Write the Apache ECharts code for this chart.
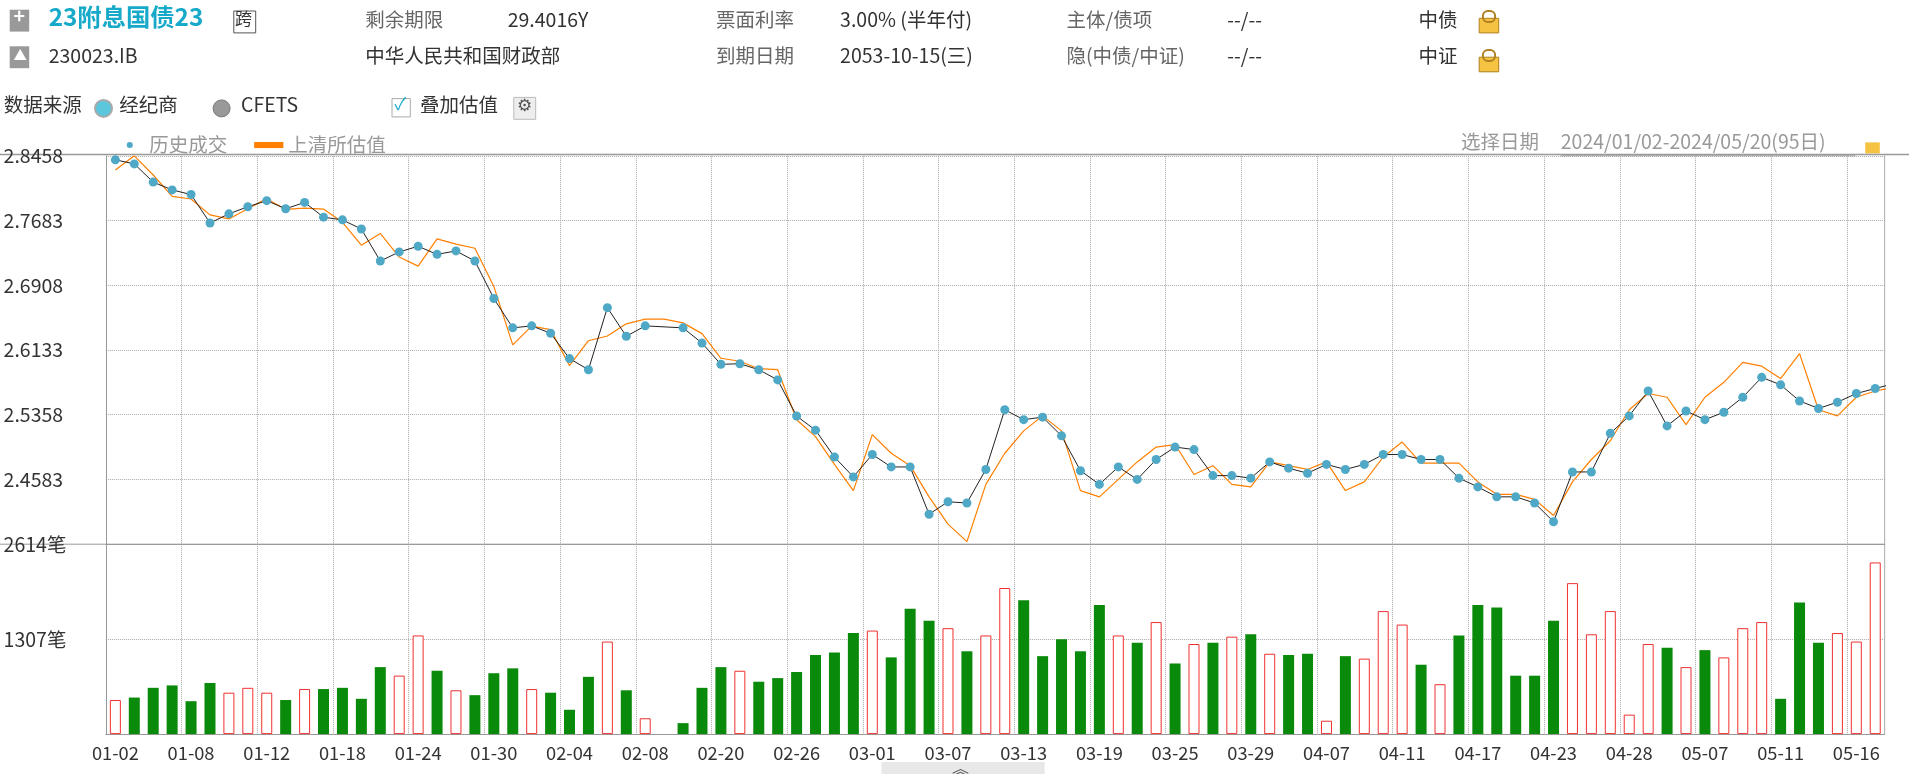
<!DOCTYPE html>
<html><head><meta charset="utf-8">
<script src="https://cdn.jsdelivr.net/npm/echarts@6/dist/echarts.min.js"></script>
<style>html,body{margin:0;padding:0;background:#fff}#c{width:1909px;height:774px}</style>
</head><body><div id="c"></div>
<script>
const dates = ['01-02','01-03','01-04','01-05','01-08','01-09','01-10','01-11','01-12','01-15','01-16','01-17','01-18','01-19','01-22','01-23','01-24','01-25','01-26','01-29','01-30','01-31',
'02-01','02-02','02-04','02-05','02-06','02-07','02-08','02-09','02-18','02-19','02-20','02-21','02-22','02-23','02-26','02-27','02-28','02-29',
'03-01','03-04','03-05','03-06','03-07','03-08','03-11','03-12','03-13','03-14','03-15','03-18','03-19','03-20','03-21','03-22','03-25','03-26','03-27','03-28','03-29',
'04-01','04-02','04-03','04-07','04-08','04-09','04-10','04-11','04-12','04-15','04-16','04-17','04-18','04-19','04-22','04-23','04-24','04-25','04-26','04-28','04-29','04-30',
'05-06','05-07','05-08','05-09','05-10','05-11','05-13','05-14','05-15','05-16','05-17'];
const trades = [2.8410,2.8361,2.8143,2.8050,2.7994,2.7654,2.7763,2.7848,2.7921,2.7824,2.7900,2.7723,2.7691,2.7581,2.7198,2.7307,2.7375,2.7278,2.7319,2.7198,
2.6749,2.6398,2.6422,2.6333,2.6030,2.5897,2.6640,2.6297,2.6422,null,2.6398,2.6216,2.5961,2.5969,2.5897,2.5775,2.5343,2.5173,2.4852,2.4614,
2.4882,2.4733,2.4733,2.4167,2.4316,2.4301,2.4703,2.5418,2.5299,2.5329,2.5105,2.4688,2.4524,2.4733,2.4584,2.4822,2.4971,2.4941,2.4629,2.4629,
2.4599,2.4793,2.4718,2.4658,2.4763,2.4703,2.4763,2.4882,2.4882,2.4822,2.4822,2.4599,2.4494,2.4375,2.4375,2.4301,2.4077,2.4673,2.4673,2.5135,
2.5344,2.5642,2.5224,2.5403,2.5299,2.5388,2.5567,2.5806,2.5716,2.5523,2.5433,2.5508,2.5612,2.5672,2.5731];
const valuation = [2.8288,2.8458,2.8228,2.7973,2.7941,2.7751,2.7702,2.7824,2.7945,2.7816,2.7832,2.7820,2.7662,2.7388,2.7529,2.7246,2.7137,2.7464,2.7400,2.7351,
2.6894,2.6195,2.6418,2.6377,2.5945,2.6244,2.6301,2.6446,2.6503,2.6503,2.6458,2.6329,2.6034,2.5998,2.5909,2.5897,2.5298,2.5096,2.4763,2.4450,
2.5120,2.4897,2.4748,2.4375,2.4048,2.3839,2.4524,2.4897,2.5165,2.5344,2.5165,2.4450,2.4375,2.4584,2.4793,2.4971,2.5001,2.4643,2.4748,2.4524,
2.4494,2.4793,2.4748,2.4703,2.4793,2.4450,2.4554,2.4852,2.5031,2.4778,2.4778,2.4778,2.4554,2.4405,2.4405,2.4345,2.4152,2.4554,2.4822,2.5046,
2.5418,2.5612,2.5567,2.5239,2.5567,2.5746,2.5984,2.5939,2.5791,2.6089,2.5418,2.5344,2.5567,2.5642,2.5686];
const volumes = [469,503,637,670,453,704,570,637,570,469,620,620,637,486,922,805,1358,872,603,536,838,905,620,570,335,788,1274,603,218,null,151,
637,922,872,721,771,855,1089,1123,1391,1425,1056,1726,1559,1458,1140,1358,2011,1844,1073,1307,1140,1777,1358,1257,1542,972,1240,1257,1341,1374,
1106,1089,1106,184,1073,1039,1693,1508,955,687,1358,1777,1743,804,804,1559,2078,1374,1693,268,1240,1190,922,1156,1056,1458,1542,486,1810,1257,1391,1274,2363,888];
const volKind = 'RGGGGGRRRGRGGGGRRGRGGGRGGGRGR-G' + 'GGRGGGGGG' + 'RGGGRGRRGGGG' + 'GRGRGRGRGRGG' + 'RGRRRGRGGGGG' + 'GRRRRRGRGRRR' + 'GGGRRRR';
const volTicks = [0,1307,2614];
const priceTicks = [2.3808,2.4583,2.5358,2.6133,2.6908,2.7683,2.8458];

const K = 1909/1568;
const S = v => Math.round(v*K*10)/10;
const chart = echarts.init(document.getElementById('c'));
const F = 'Noto Sans CJK SC';
const FS = S(16);
const t = (x,y,s,o={}) => ({type:'text',left:S(x),top:S(y),style:Object.assign({text:s,fill:'#333',font:FS+'px "'+F+'"'},o)});
const grey = {fill:'#666'};
const box = (x,y,w,h,fill,stroke) => ({type:'rect',shape:{x:S(x),y:S(y),width:S(w),height:S(h)},style:{fill:fill,stroke:stroke||null}});
const lock = (x,y) => ([box(x,y+5,16,12,'#f5c242','#b08020'),{type:'rect',shape:{x:S(x+3),y:S(y-1),width:S(10),height:S(9),r:5},style:{fill:'none',stroke:'#b08020',lineWidth:2}}]);
const graphic = [
  box(8,8,16,18,'#999'), t(11,5,'+',{fill:'#fff',font:'bold '+FS+'px "'+F+'"'}),
  t(40,4,'23附息国债23',{fill:'#17a9c9',font:'bold '+S(20)+'px "'+F+'"'}),
  box(192,9,18,18,'#fff','#555'), t(193,8,'跨',{font:S(14)+'px "'+F+'"'}),
  t(300,8,'剩余期限',grey), t(417,8,'29.4016Y'),
  t(588,8,'票面利率',grey), t(690,8,'3.00% (半年付)'),
  t(876,8,'主体/债项',grey), t(1008,8,'--/--'), t(1165,8,'中债'),
  box(8,38,16,18,'#999'), t(11,40,'▲',{fill:'#fff',font:S(11)+'px "'+F+'"'}),
  t(40,38,'230023.IB'), t(300,38,'中华人民共和国财政部'),
  t(588,38,'到期日期',grey), t(690,38,'2053-10-15(三)'),
  t(876,38,'隐(中债/中证)',grey), t(1008,38,'--/--'), t(1165,38,'中证'),
  ...lock(1215,10), ...lock(1215,42),
  t(3,78,'数据来源'),
  {type:'circle',shape:{cx:S(85),cy:S(89),r:S(7)},style:{fill:'#5bc6dc',stroke:'#aaa',lineWidth:2}},
  t(98,78,'经纪商'),
  {type:'circle',shape:{cx:S(182),cy:S(89),r:S(7)},style:{fill:'#999',stroke:'#777',lineWidth:1}},
  t(198,78,'CFETS'),
  box(322,81,15,15,'#fff','#aaa'), t(324,78,'✓',{fill:'#17a9c9',font:S(14)+'px "'+F+'"'}),
  t(345,78,'叠加估值'),
  box(422,80,18,18,'#eee','#bbb'), t(425,79,'⚙',{font:S(14)+'px "'+F+'"',fill:'#555'}),
  t(1200,108,'选择日期',{fill:'#999'}),
  t(1282,108,'2024/01/02-2024/05/20(95日)',{fill:'#999'}),
  {type:'line',shape:{x1:S(1282),y1:S(128),x2:S(1524),y2:S(128)},style:{stroke:'#999'}},
  box(1532,117,12,9,'#f5c242'),
  {type:'line',shape:{x1:0,y1:S(127),x2:1909,y2:S(127)},style:{stroke:'#999',lineWidth:1.5}},
  {type:'line',shape:{x1:0,y1:S(447),x2:S(1548),y2:S(447)},style:{stroke:'#999',lineWidth:1}},
  {type:'line',shape:{x1:S(1548),y1:S(127),x2:S(1548),y2:S(603)},style:{stroke:'#bbb',lineWidth:1}},
  box(724,626,134,20,'#e8e8e8'), t(782,624,'︽',{fill:'#555',font:S(14)+'px "'+F+'"'})
];
const split = {show:true,interval:3,lineStyle:{type:'dotted',color:'#aaa'}};
chart.setOption({
  animation:false,
  textStyle:{fontFamily:F},
  graphic:graphic,
  legend:{left:S(100),top:S(107),itemGap:S(22),textStyle:{color:'#999',fontSize:FS},
    data:[{name:'历史成交',icon:'circle'},{name:'上清所估值',icon:'rect'}],itemWidth:S(24),itemHeight:S(5)},
  grid:[{left:S(87),right:1909-S(1548),top:S(128),height:S(319)},{left:S(87),right:1909-S(1548),top:S(447),height:S(156)}],
  xAxis:[
    {type:'category',data:dates,gridIndex:0,axisLabel:{show:false},axisTick:{show:false},axisLine:{lineStyle:{color:'#999'}},splitLine:split},
    {type:'category',data:dates,gridIndex:1,axisTick:{show:false},axisLine:{lineStyle:{color:'#999'}},splitLine:split,
      axisLabel:{interval:3,color:'#333',fontSize:S(15),margin:S(8)}}
  ],
  yAxis:[
    {type:'value',gridIndex:0,min:priceTicks[0],max:priceTicks[6],interval:0.0775,
      axisLine:{show:true,lineStyle:{color:'#999'}},axisTick:{show:false},
      axisLabel:{showMinLabel:false,align:'left',margin:S(84),color:'#333',fontSize:FS,formatter:v=>v.toFixed(4)},
      splitLine:{lineStyle:{type:'dotted',color:'#aaa'}}},
    {type:'value',gridIndex:1,min:volTicks[0],max:volTicks[2],interval:1307,
      axisLine:{show:true,lineStyle:{color:'#999'}},axisTick:{show:false},
      axisLabel:{showMinLabel:false,align:'left',margin:S(84),color:'#333',fontSize:FS,formatter:v=>v+'笔'},
      splitLine:{lineStyle:{type:'dotted',color:'#aaa'}}}
  ],
  series:[
    {name:'上清所估值',type:'line',data:valuation,symbol:'none',lineStyle:{color:'#ff7f00',width:1.2},itemStyle:{color:'#ff7f00'}},
    {name:'历史成交',type:'line',data:trades,connectNulls:true,symbol:'circle',symbolSize:9,
      lineStyle:{color:'#222',width:1},itemStyle:{color:'#4fa9c6'}},
    {type:'bar',xAxisIndex:1,yAxisIndex:1,barWidth:S(9),
      data:volumes.map((v,i)=>({value:v,itemStyle:volKind[i]==='G'?{color:'#0a8a0a'}:{color:'#fff',borderColor:'#f03030',borderWidth:1}}))}
  ]
});
</script></body></html>
